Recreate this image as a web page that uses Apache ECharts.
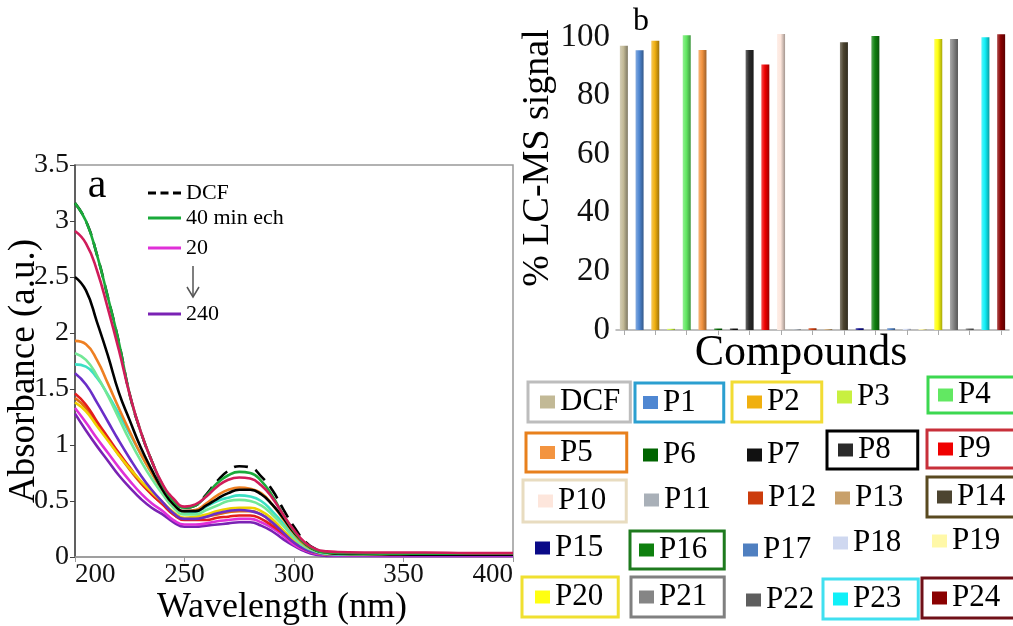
<!DOCTYPE html>
<html><head><meta charset="utf-8">
<script src="https://cdn.jsdelivr.net/npm/echarts@6/dist/echarts.min.js"></script>
<style>html,body{margin:0;padding:0;background:#fff}#c{width:1013px;height:626px}</style>
</head><body><div id="c"></div>
<script>
// ---------- Panel a data: UV-vis absorbance ----------
const wavelength = [200,205,210,215,220,225,230,235,240,245,250,255,260,265,270,275,280,285,290,295,300,305,310,315,320,340,360,380,400];
const absDCF      = [3.16,3.00,2.70,2.32,1.92,1.45,1.12,0.86,0.64,0.50,0.44,0.46,0.56,0.68,0.77,0.81,0.80,0.72,0.60,0.43,0.27,0.14,0.07,0.04,0.03,0.025,0.02,0.02,0.02];
const abs40       = [3.16,3.00,2.70,2.32,1.92,1.45,1.12,0.86,0.64,0.50,0.44,0.46,0.55,0.66,0.73,0.76,0.75,0.68,0.55,0.38,0.23,0.12,0.06,0.04,0.035,0.03,0.03,0.03,0.03];
const absCrimson  = [2.91,2.80,2.56,2.22,1.85,1.45,1.12,0.86,0.65,0.52,0.45,0.47,0.54,0.63,0.69,0.71,0.70,0.64,0.53,0.38,0.24,0.13,0.07,0.05,0.045,0.04,0.04,0.035,0.035];
const absBlack    = [2.50,2.38,2.10,1.80,1.47,1.22,0.98,0.78,0.60,0.47,0.41,0.41,0.46,0.52,0.57,0.60,0.60,0.56,0.47,0.35,0.22,0.12,0.06,0.04,0.03,0.025,0.02,0.02,0.02];
const absOrange   = [1.93,1.90,1.76,1.55,1.33,1.12,0.92,0.75,0.60,0.47,0.41,0.42,0.48,0.55,0.60,0.62,0.61,0.57,0.47,0.34,0.21,0.11,0.06,0.04,0.03,0.025,0.02,0.02,0.02];
const absLtGreen  = [1.82,1.76,1.62,1.44,1.24,1.04,0.86,0.70,0.56,0.44,0.38,0.38,0.42,0.46,0.50,0.51,0.50,0.46,0.38,0.28,0.17,0.09,0.05,0.03,0.025,0.02,0.02,0.02,0.02];
const absAqua     = [1.72,1.70,1.60,1.45,1.28,1.10,0.92,0.75,0.59,0.46,0.39,0.40,0.45,0.50,0.53,0.55,0.54,0.50,0.41,0.30,0.18,0.10,0.05,0.03,0.025,0.02,0.02,0.02,0.02];
const absPurpleUp = [1.64,1.54,1.38,1.21,1.04,0.88,0.73,0.60,0.49,0.39,0.34,0.34,0.36,0.39,0.41,0.42,0.41,0.38,0.31,0.22,0.13,0.07,0.04,0.025,0.02,0.015,0.015,0.015,0.015];
const absRed      = [1.46,1.36,1.21,1.07,0.93,0.80,0.67,0.56,0.47,0.38,0.33,0.33,0.33,0.35,0.36,0.37,0.37,0.34,0.28,0.21,0.13,0.07,0.04,0.025,0.02,0.02,0.02,0.02,0.02];
const absBrown    = [1.42,1.33,1.19,1.05,0.91,0.78,0.66,0.56,0.47,0.38,0.34,0.34,0.36,0.38,0.40,0.41,0.41,0.38,0.31,0.22,0.14,0.07,0.04,0.025,0.02,0.02,0.02,0.02,0.02];
const absYellow   = [1.38,1.30,1.17,1.04,0.91,0.79,0.68,0.58,0.49,0.40,0.35,0.36,0.38,0.41,0.43,0.44,0.44,0.41,0.34,0.24,0.15,0.08,0.04,0.025,0.02,0.02,0.02,0.02,0.02];
const abs20       = [1.33,1.20,1.06,0.93,0.80,0.68,0.57,0.48,0.41,0.33,0.29,0.29,0.30,0.32,0.33,0.34,0.34,0.31,0.26,0.19,0.11,0.06,0.03,0.02,0.015,0.01,0.01,0.01,0.01];
const abs240      = [1.28,1.13,0.99,0.86,0.73,0.62,0.52,0.44,0.38,0.31,0.27,0.27,0.28,0.29,0.30,0.31,0.31,0.28,0.23,0.16,0.10,0.05,0.02,0.01,0.01,0.01,0.01,0.01,0.01];

// ---------- Panel b data: % LC-MS signal ----------
const compounds  = ['DCF','P1','P2','P3','P4','P5','P6','P7','P8','P9','P10','P11','P12','P13','P14','P15','P16','P17','P18','P19','P20','P21','P22','P23','P24'];
const lcmsSignal = [97.0,95.5,98.7,0.4,100.6,95.6,0.5,0.5,95.6,90.6,101.0,0.3,0.6,0.3,98.2,0.6,100.3,0.6,0.4,0.3,99.3,99.3,0.5,99.9,100.9];

// ---------- styles ----------
const SERIF = 'Liberation Serif';
const uvCurves = [
  {name:'DCF (UV)', values:absDCF, color:'#000000', dash:[14,8]},
  {name:'240', values:abs240, color:'#7a22b4'},
  {name:'20', values:abs20, color:'#e030d8'},
  {name:'c-brown', values:absBrown, color:'#e06a10'},
  {name:'c-red', values:absRed, color:'#e41e1e'},
  {name:'c-yellow', values:absYellow, color:'#f0d000'},
  {name:'c-purple', values:absPurpleUp, color:'#6a2ec8'},
  {name:'c-aqua', values:absAqua, color:'#3ce0c4'},
  {name:'c-ltgreen', values:absLtGreen, color:'#72e896'},
  {name:'c-orange', values:absOrange, color:'#ee7f22'},
  {name:'c-black', values:absBlack, color:'#000000'},
  {name:'40 min ech', values:abs40, color:'#1aaa3a'},
  {name:'c-crimson', values:absCrimson, color:'#d01c5a'}
];
const barColors = {DCF:'#c2b996',P1:'#4f87d2',P2:'#f0b010',P3:'#c8f040',P4:'#62e862',P5:'#f39440',P6:'#006400',P7:'#111111',P8:'#2a2a2a',P9:'#f00000',P10:'#fde6dc',P11:'#a9b0b8',P12:'#cc3c0c',P13:'#c8a06a',P14:'#4c4430',P15:'#0a0a88',P16:'#0f800f',P17:'#4f7fc0',P18:'#cfd8f0',P19:'#fff8a8',P20:'#ffff10',P21:'#858585',P22:'#5e5e5e',P23:'#10f0f8',P24:'#8a0000'};
// legend layout: name, left, top, padding, border colour
const legendLayoutB = [
 ['DCF',528,382,[4.5,10,4.5,12],'#bdbdbd'],
 ['P1',635,383,[4,28,4,8],'#2b9fd0'],
 ['P2',732,382,[4.5,22,4.5,15],'#f2dc34'],
 ['P3',837,381.5,null,null],
 ['P4',928,377,[2.5,24,2.5,10],'#3cd850'],
 ['P5',526,433,[4,34,4,14],'#e8801c'],
 ['P6',643,439.5,null,null],
 ['P7',747,439.5,null,null],
 ['P8',827,431,[3.5,27,3.5,11],'#000000'],
 ['P9',927,430,[3.5,24,3.5,11],'#c8303a'],
 ['P10',523,480,[5.5,20,5.5,15],'#e8dcc0'],
 ['P11',644,484.5,null,null],
 ['P12',748,482.5,null,null],
 ['P13',835,482.5,null,null],
 ['P14',927,477,[4.5,10,4.5,10],'#5a4a20'],
 ['P15',535,532.5,null,null],
 ['P16',630,531,[3.5,17,3.5,9],'#1e7a1e'],
 ['P17',743,534.5,null,null],
 ['P18',833,527.5,null,null],
 ['P19',932,525.5,null,null],
 ['P20',522,577,[4.5,15,4.5,13],'#f0e030'],
 ['P21',631,577,[4.5,17,4.5,8],'#808080'],
 ['P22',746,584.5,null,null],
 ['P23',823,579,[4.5,17,4.5,10],'#40e0f0'],
 ['P24',922,578,[4.5,15,4.5,10],'#701018']
];

function mix(hex, t){ // t>0 toward white, t<0 toward black
  const n = parseInt(hex.slice(1),16);
  let r=(n>>16)&255, g=(n>>8)&255, b=n&255;
  const f = c => Math.round(t>0 ? c+(255-c)*t : c*(1+t));
  return 'rgb('+f(r)+','+f(g)+','+f(b)+')';
}

const series = [];
uvCurves.forEach((c, i) => {
  series.push({
    type:'line', name:c.name, xAxisIndex:0, yAxisIndex:0,
    data: wavelength.map((w, k) => [w, c.values[k]]),
    smooth:true, symbol:'none', showSymbol:false, z:2+i,
    lineStyle:{color:c.color, width:2.6, type:c.dash || 'solid'},
    itemStyle:{color:c.color}
  });
});
compounds.forEach((name, i) => {
  const base = barColors[name];
  series.push({
    type:'bar', name:name, xAxisIndex:1, yAxisIndex:1,
    data: compounds.map((_, k) => k === i ? lcmsSignal[k] : '-'),
    barWidth:8, barGap:'-100%', clip:false,
    itemStyle:{color:new echarts.graphic.LinearGradient(0,0,1,0,[
      {offset:0,color:mix(base,0.3)},{offset:0.45,color:base},{offset:1,color:mix(base,-0.35)}])}
  });
});

const SOLID_ICON = 'path://M0,0h33v3h-33z';
const DASH_ICON = 'path://M0,0h8v3h-8z M12.5,0h8v3h-8z M25,0h8v3h-8z';
const legends = [];
const legA = [['DCF (UV)',148,182,'DCF',DASH_ICON,'#000000'],['40 min ech',148,207,'40 min ech',SOLID_ICON,'#1aaa3a'],['20',148,237,'20',SOLID_ICON,'#e030d8'],['240',148,303,'240',SOLID_ICON,'#7a22b4']];
legA.forEach(l => legends.push({
  data:[{name:l[0], icon:l[4], itemStyle:{color:l[5]}}], left:l[1], top:l[2], padding:0,
  itemWidth:33, itemHeight:3, selectedMode:false,
  formatter:() => l[3], textStyle:{fontSize:22, fontFamily:SERIF, color:'#000'}
}));
legendLayoutB.forEach(l => {
  const o = {
    data:[{name:l[0], itemStyle:{color:barColors[l[0]]}}], left:l[1], top:l[2],
    icon:'rect', itemWidth:15, itemHeight:13, selectedMode:false,
    textStyle:{fontSize:31, fontFamily:SERIF, color:'#000'},
    padding: l[3] || 0
  };
  if (l[4]) { o.borderColor = l[4]; o.borderWidth = 3; }
  legends.push(o);
});

function txt(text, x, y, size, rot){
  return {type:'text', x:x, y:y, rotation:rot||0, z:100,
    style:{text:text, fontSize:size, fontFamily:SERIF, fill:'#000',
      textAlign:'center', textVerticalAlign:'middle'}};
}

const option = {
  animation:false,
  backgroundColor:'#fff',
  textStyle:{fontFamily:SERIF},
  grid:[
    {left:75, top:165, width:438, height:392, show:true, borderColor:'#999', borderWidth:1.5},
    {left:616, top:37, width:393, height:293}
  ],
  xAxis:[
    {type:'value', gridIndex:0, min:200, max:400, interval:50,
     axisLine:{lineStyle:{color:'#999', width:1.5}},
     axisTick:{show:true, length:5, lineStyle:{color:'#999'}},
     splitLine:{show:false},
     axisLabel:{fontSize:27, color:'#111', margin:4, fontFamily:SERIF, alignMinLabel:'left', alignMaxLabel:'right'}},
    {type:'category', gridIndex:1, data:compounds,
     axisLine:{lineStyle:{color:'#aaa', width:1.5}},
     axisTick:{show:true, alignWithLabel:true, length:5, lineStyle:{color:'#aaa'}},
     axisLabel:{show:false}, splitLine:{show:false}}
  ],
  yAxis:[
    {type:'value', gridIndex:0, min:0, max:3.5, interval:0.5,
     axisLine:{show:true, lineStyle:{color:'#444', width:1.5}},
     axisTick:{show:true, length:5, lineStyle:{color:'#444'}},
     splitLine:{show:false},
     axisLabel:{fontSize:28, color:'#111', margin:6, fontFamily:SERIF}},
    {type:'value', gridIndex:1, min:0, max:100, interval:20,
     axisLine:{show:false}, axisTick:{show:false}, splitLine:{show:false},
     axisLabel:{fontSize:33, color:'#111', margin:6, fontFamily:SERIF}}
  ],
  legend: legends,
  series: series,
  graphic:[
    txt('a', 97, 186, 42),
    txt('b', 641, 22, 32),
    txt('Absorbance (a.u.)', 24, 371, 37, Math.PI/2),
    txt('Wavelength (nm)', 282, 608, 36),
    txt('% LC-MS signal', 538, 158, 38, Math.PI/2),
    txt('Compounds', 801, 353, 44),
    {type:'line', shape:{x1:193, y1:266, x2:193, y2:296}, style:{stroke:'#555', lineWidth:1.5}, z:100},
    {type:'polyline', shape:{points:[[187,287],[193,297],[199,287]]}, style:{stroke:'#555', lineWidth:1.5, fill:null}, z:100}
  ]
};
const chart = echarts.init(document.getElementById('c'), null, {renderer:'canvas'});
chart.setOption(option);
</script></body></html>
